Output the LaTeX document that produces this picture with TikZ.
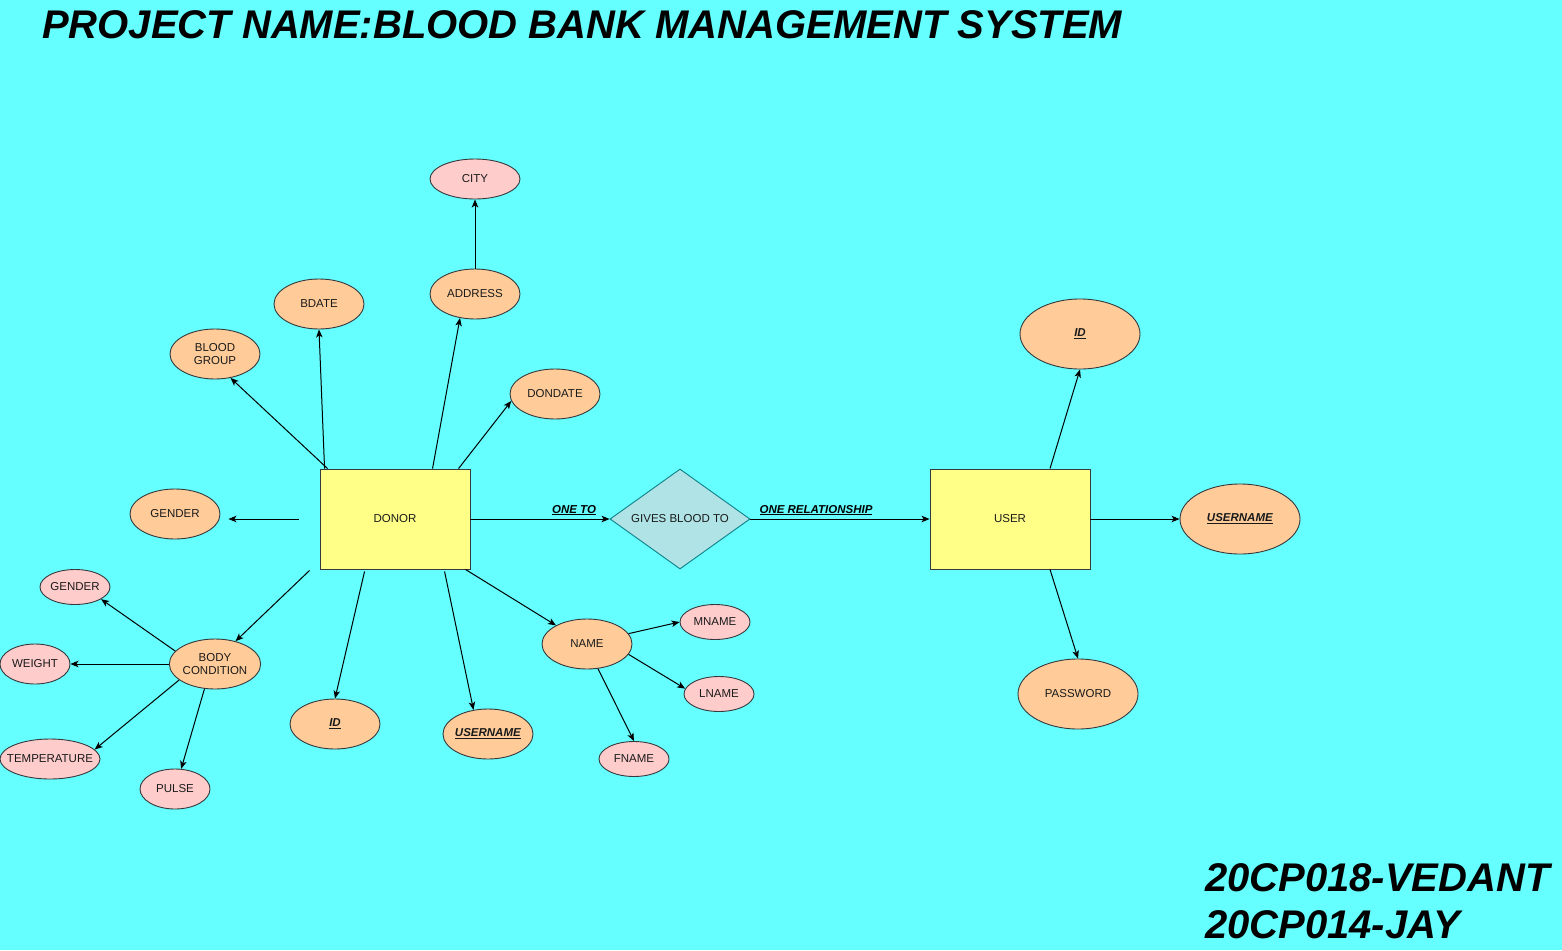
\documentclass[tikz,border=0pt]{standalone}
\usepackage{fontspec}
\setmainfont{Liberation Sans}
\usetikzlibrary{shapes.geometric,arrows.meta,calc}
\definecolor{bg}{HTML}{66FFFF}
\definecolor{attr}{HTML}{FFCC99}
\definecolor{sub}{HTML}{FFCCCC}
\definecolor{ent}{HTML}{FFFF88}
\definecolor{relf}{HTML}{B0E3E6}
\definecolor{rels}{HTML}{0E8088}
\definecolor{edgec}{HTML}{36393D}
\definecolor{txt}{HTML}{1A1A1A}
\tikzset{
  base/.style={inner sep=0pt, text=txt, font=\fontsize{11.5}{13}\selectfont, align=center},
  attrib/.style={base, ellipse, draw=edgec, line width=0.9pt, fill=attr, minimum width=90pt, minimum height=50pt},
  bigattr/.style={attrib, minimum width=120pt, minimum height=70pt},
  subattr/.style={attrib, fill=sub, minimum width=70pt, minimum height=35pt},
  entity/.style={base, rectangle, draw=edgec, line width=0.9pt, fill=ent, minimum width=150pt, minimum height=100pt},
  relation/.style={base, diamond, draw=rels, line width=0.9pt, fill=relf, minimum width=140pt, minimum height=100pt, aspect=1.4},
  conn/.style={draw=black, line width=1pt, -{Stealth[length=8pt,width=6.5pt,inset=2pt]}},
  elabel/.style={inner sep=0pt, anchor=base, text=black, font=\fontsize{11.5}{13}\selectfont\bfseries\itshape},
  bigtext/.style={inner sep=0pt, anchor=base west, text=black, font=\fontsize{40}{47}\selectfont\bfseries\itshape}
}
\begin{document}
\begin{tikzpicture}[x=1pt,y=-1pt]
\fill[bg] (0,0) rectangle (1562,950);
\useasboundingbox (0,0) rectangle (1562,950);

\node[bigtext] (title) at (42,38) {PROJECT NAME:BLOOD BANK MANAGEMENT SYSTEM};
\node[bigtext] (auth1) at (1205,891) {20CP018-VEDANT};
\node[bigtext] (auth2) at (1205,938) {20CP014-JAY};

% entities and relation
\node[entity] (donor) at (395,519) {DONOR};
\node[entity, minimum width=160pt] (user) at (1010,519) {USER};
\node[relation] (rel) at (680,519) {GIVES BLOOD TO};

% donor attributes
\node[subattr, minimum width=90pt, minimum height=40pt] (city) at (475,179) {CITY};
\node[attrib] (address) at (475,294) {ADDRESS};
\node[attrib] (bdate) at (319,304) {BDATE};
\node[attrib] (bgroup) at (215,354) {BLOOD\\GROUP};
\node[attrib] (dondate) at (555,394) {DONDATE};
\node[attrib] (gender) at (175,514) {GENDER};
\node[attrib] (body) at (215,664) {BODY\\CONDITION};
\node[attrib] (did) at (335,724) {\underline{\textbf{\textit{ID}}}};
\node[attrib] (duname) at (488,734) {\makebox[50pt]{\underline{\textbf{\textit{USERNAME}}}}};
\node[attrib] (name) at (587,644) {NAME};
\node[subattr] (mname) at (715,622) {MNAME};
\node[subattr] (lname) at (719,694) {LNAME};
\node[subattr] (fname) at (634,759) {FNAME};
\node[subattr] (gender2) at (75,587) {GENDER};
\node[subattr, minimum height=40pt] (weight) at (35,664) {WEIGHT};
\node[subattr, minimum width=100pt, minimum height=40pt] (temp) at (50,759) {\makebox[50pt]{TEMPERATURE}};
\node[subattr, minimum height=40pt] (pulse) at (175,789) {PULSE};

% user attributes
\node[bigattr] (uid) at (1080,334) {\underline{\textbf{\textit{ID}}}};
\node[bigattr] (uname) at (1240,519) {\underline{\textbf{\textit{USERNAME}}}};
\node[bigattr] (pass) at (1078,694) {PASSWORD};

% free ends of connectors
\coordinate (gstart) at ($(donor.west)+(-21,0)$);
\coordinate (bstart) at ($(donor.south west)+(-10,1)$);

% donor connectors
\draw[conn] ($(donor.north west)+(8,0)$) -- (bgroup.-57);
\draw[conn] ($(donor.north west)+(5,0)$) -- (bdate.south);
\draw[conn] (address.north) -- (city.south);
\draw[conn] ($(donor.north west)+(113,0)$) -- (address.-122);
\draw[conn] ($(donor.north west)+(139,0)$) -- (dondate.-171);
\draw[conn] (gstart) -- ($(gender.east|-gstart)+(8,0)$);
\draw[conn] (bstart) -- (body.48);
\draw[conn] ($(donor.south west)+(45,2)$) -- (did.north);
\draw[conn] ($(donor.south west)+(125,2)$) -- (duname.121);
\draw[conn] ($(donor.south east)+(-5,0)$) -- (name.149);
\draw[conn] (name.14) -- (mname.west);
\draw[conn] (name.-14) -- (lname.171);
\draw[conn] (name.-66) -- (fname.north);
\draw[conn] (body.162) -- (gender2.-25);
\draw[conn] (body.west) -- (weight.east);
\draw[conn] (body.-156) -- (temp.12);
\draw[conn] (body.-113) -- (pulse.73);

% relationship connectors
\draw[conn] (donor.east) -- (rel.west);
\draw[conn] (rel.east) -- (user.west);
\node[elabel] (l1) at (574,513) {\underline{ONE TO}};
\node[elabel] (l2) at (816,513) {\underline{ONE RELATIONSHIP}};

% user connectors
\draw[conn] ($(user.north)+(40,0)$) -- (uid.south);
\draw[conn] (user.east) -- (uname.west);
\draw[conn] ($(user.south)+(40,0)$) -- (pass.north);
\end{tikzpicture}
\end{document}
